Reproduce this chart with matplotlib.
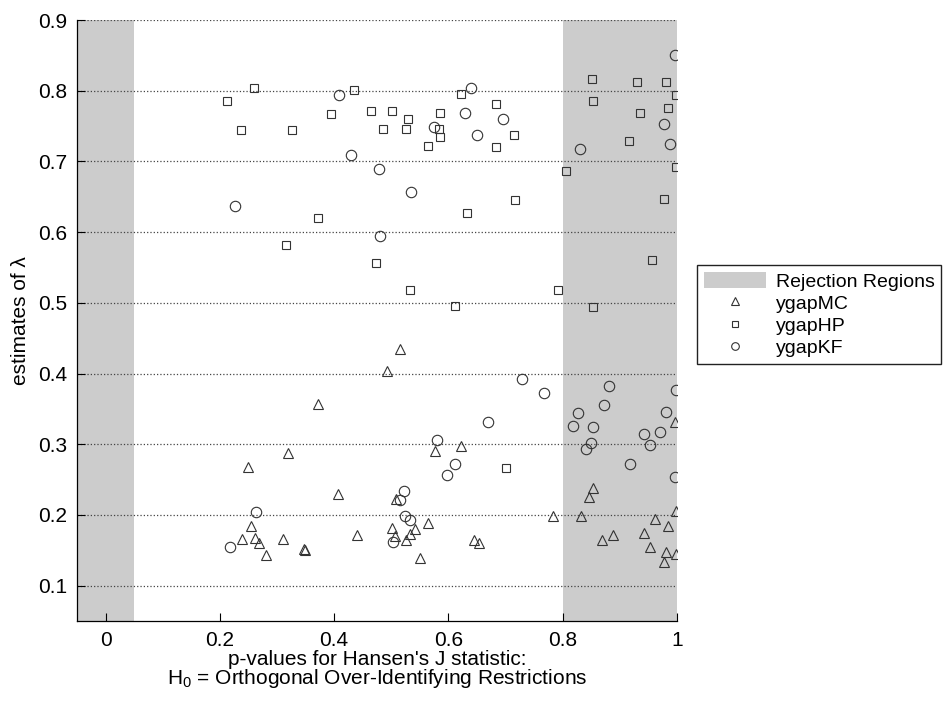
import matplotlib
matplotlib.use("Agg")
import matplotlib.pyplot as plt
from matplotlib.patches import Patch
from matplotlib.lines import Line2D
from matplotlib.ticker import FormatStrFormatter

plt.rcParams["font.family"] = ["Liberation Sans", "DejaVu Sans"]

# rejection regions of the p-value axis
reject_low = (-0.05, 0.05)
reject_high = (0.8, 1.0)

# ygapMC (triangles)
mc_p = [0.516, 0.492, 0.372, 0.622, 0.577, 0.320, 0.250, 0.406, 0.509, 0.254,
        0.238, 0.261, 0.268, 0.280, 0.311, 0.347, 0.349, 0.440, 0.502, 0.506,
        0.525, 0.533, 0.541, 0.565, 0.551, 0.645, 0.654, 0.783, 0.832, 0.853,
        0.846, 0.869, 0.888, 0.961, 0.942, 0.985, 0.998, 0.952, 0.981, 0.998,
        0.977, 0.997]
mc_lam = [0.435, 0.403, 0.357, 0.297, 0.290, 0.288, 0.268, 0.230, 0.222, 0.185,
          0.166, 0.167, 0.161, 0.144, 0.166, 0.152, 0.150, 0.171, 0.182, 0.170,
          0.165, 0.173, 0.180, 0.189, 0.139, 0.164, 0.160, 0.199, 0.199, 0.238,
          0.225, 0.165, 0.171, 0.194, 0.175, 0.184, 0.206, 0.154, 0.147, 0.145,
          0.134, 0.332]

# ygapHP (squares)
hp_p = [0.259, 0.213, 0.237, 0.327, 0.395, 0.434, 0.465, 0.501, 0.485, 0.529,
        0.526, 0.372, 0.586, 0.583, 0.585, 0.565, 0.622, 0.632, 0.683, 0.715,
        0.683, 0.716, 0.806, 0.851, 0.853, 0.930, 0.935, 0.916, 0.981, 0.985,
        0.998, 0.998, 0.978, 0.316, 0.473, 0.532, 0.611, 0.956, 0.792, 0.853,
        0.700]
hp_lam = [0.804, 0.786, 0.744, 0.744, 0.767, 0.801, 0.771, 0.771, 0.746, 0.760,
          0.746, 0.620, 0.768, 0.746, 0.735, 0.722, 0.795, 0.627, 0.781, 0.738,
          0.720, 0.646, 0.687, 0.816, 0.785, 0.812, 0.769, 0.729, 0.812, 0.775,
          0.794, 0.692, 0.647, 0.582, 0.557, 0.518, 0.495, 0.560, 0.518, 0.494,
          0.266]

# ygapKF (circles)
kf_p = [0.226, 0.408, 0.429, 0.478, 0.535, 0.480, 0.575, 0.639, 0.629, 0.650,
        0.695, 0.831, 0.997, 0.977, 0.988, 0.580, 0.729, 0.768, 0.669, 0.881,
        0.873, 0.826, 0.818, 0.853, 0.850, 0.998, 0.980, 0.970, 0.943, 0.953,
        0.264, 0.217, 0.516, 0.522, 0.524, 0.532, 0.503, 0.611, 0.598, 0.840,
        0.918, 0.996]
kf_lam = [0.637, 0.794, 0.709, 0.689, 0.657, 0.594, 0.748, 0.804, 0.769, 0.738,
          0.760, 0.718, 0.850, 0.753, 0.725, 0.306, 0.392, 0.373, 0.332, 0.383,
          0.356, 0.344, 0.326, 0.324, 0.302, 0.377, 0.346, 0.317, 0.314, 0.299,
          0.204, 0.155, 0.221, 0.234, 0.198, 0.193, 0.162, 0.272, 0.257, 0.293,
          0.272, 0.254]

x_ticks = [0, 0.2, 0.4, 0.6, 0.8, 1.0]
y_ticks = [0.1, 0.2, 0.3, 0.4, 0.5, 0.6, 0.7, 0.8, 0.9]

GRAY = "#cccccc"
EDGE = "#333333"


def main() -> None:
    fig = plt.figure(figsize=(9.45, 7.05), dpi=100)
    ax = fig.add_axes([0.0815, 0.1191, 0.6349, 0.8525])

    ax.axvspan(*reject_low, color=GRAY, lw=0, zorder=0)
    ax.axvspan(*reject_high, color=GRAY, lw=0, zorder=0)

    style = dict(linestyle="none", mfc="none", mec=EDGE, mew=0.8)
    ax.plot(mc_p, mc_lam, marker="^", ms=7.5, **style)
    ax.plot(hp_p, hp_lam, marker="s", ms=6, **style)
    ax.plot(kf_p, kf_lam, marker="o", ms=7.5, **style)

    ax.set_xlim(-0.05, 1.0)
    ax.set_ylim(0.05, 0.9)
    ax.set_xticks(x_ticks)
    ax.set_yticks(y_ticks)
    ax.xaxis.set_major_formatter(FormatStrFormatter("%g"))
    ax.yaxis.set_major_formatter(FormatStrFormatter("%g"))
    ax.tick_params(direction="in", length=6, width=0.8, labelsize=15, pad=7)
    ax.grid(True, axis="y", linestyle=":", color="#444444", linewidth=0.9)

    for side in ("top", "right"):
        ax.spines[side].set_visible(False)
    for side in ("left", "bottom"):
        ax.spines[side].set_linewidth(0.9)

    ax.set_xlabel("p-values for Hansen's J statistic:\n"
                  r"H$_\mathregular{0}$ = Orthogonal Over-Identifying Restrictions",
                  fontsize=15, linespacing=0.9, labelpad=0)
    ax.set_ylabel("estimates of λ", fontsize=15, labelpad=6)

    handles = [
        Patch(facecolor=GRAY, edgecolor="none"),
        Line2D([], [], marker="^", ms=5.5, **style),
        Line2D([], [], marker="s", ms=5, **style),
        Line2D([], [], marker="o", ms=5.5, **style),
    ]
    labels = ["Rejection Regions", "ygapMC", "ygapHP", "ygapKF"]
    fig.legend(handles, labels, loc="upper left", bbox_to_anchor=(0.7376, 0.6241),
               fontsize=14, frameon=True, fancybox=False, edgecolor="#222222",
               framealpha=1, handlelength=3.2, handleheight=0.9,
               labelspacing=0.18, borderpad=0.35, handletextpad=0.5,
               borderaxespad=0)

    fig.savefig("out.png", dpi=100)
    plt.close(fig)


if __name__ == "__main__":
    main()
